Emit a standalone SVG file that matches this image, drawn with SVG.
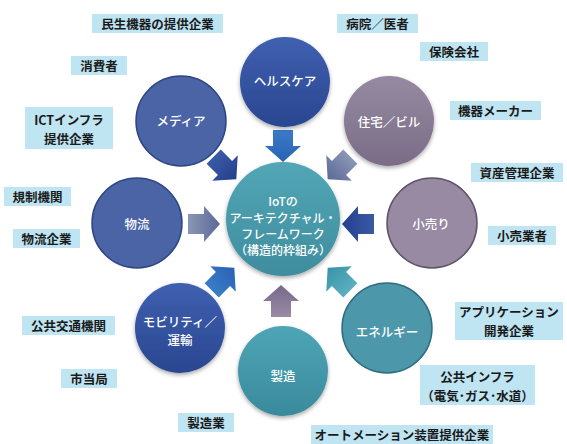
<svg xmlns="http://www.w3.org/2000/svg" width="567" height="444" viewBox="0 0 567 444">
<defs>
<style>
.lbl{fill:#bfe4f2}
.lt{font-family:"Noto Sans CJK JP","Liberation Sans",sans-serif;font-size:12.5px;font-weight:bold;fill:#1a1a1a;text-anchor:middle;dominant-baseline:central}
.ct{font-family:"Noto Sans CJK JP","Liberation Sans",sans-serif;font-size:12.5px;font-weight:500;fill:#ffffff;text-anchor:middle;dominant-baseline:central}
.cen{font-family:"Noto Sans CJK JP","Liberation Sans",sans-serif;font-size:12px;font-weight:500;fill:#ffffff;text-anchor:middle;dominant-baseline:central}
</style>
<filter id="sh" x="-20%" y="-20%" width="140%" height="140%">
<feGaussianBlur in="SourceAlpha" stdDeviation="2"/>
<feOffset dx="0" dy="2"/>
<feComponentTransfer><feFuncA type="linear" slope="0.35"/></feComponentTransfer>
<feMerge><feMergeNode/><feMergeNode in="SourceGraphic"/></feMerge>
</filter>
<linearGradient id="gBlue" x1="0" y1="0" x2="0" y2="1"><stop offset="0" stop-color="#3f60b0"/><stop offset="1" stop-color="#2a4690"/></linearGradient>
<linearGradient id="gMauve" x1="0" y1="0" x2="0" y2="1"><stop offset="0" stop-color="#968aa2"/><stop offset="1" stop-color="#7a6c86"/></linearGradient>
<linearGradient id="gTeal" x1="0" y1="0" x2="0" y2="1"><stop offset="0" stop-color="#4ea5b5"/><stop offset="1" stop-color="#3a8a9c"/></linearGradient>
<linearGradient id="gCen" x1="0" y1="0" x2="0" y2="1"><stop offset="0" stop-color="#52a6b6"/><stop offset="1" stop-color="#3e8d9e"/></linearGradient>
<linearGradient id="aBlue" gradientUnits="userSpaceOnUse" x1="0" y1="-16" x2="0" y2="16"><stop offset="0" stop-color="#3a7cc8"/><stop offset="1" stop-color="#2a62b4"/></linearGradient>
<linearGradient id="aDark" gradientUnits="userSpaceOnUse" x1="0" y1="-16" x2="0" y2="16"><stop offset="0" stop-color="#3a5aa6"/><stop offset="1" stop-color="#243f8c"/></linearGradient>
<linearGradient id="aGrey" gradientUnits="userSpaceOnUse" x1="0" y1="-16" x2="0" y2="16"><stop offset="0" stop-color="#8a96b4"/><stop offset="1" stop-color="#5a6a98"/></linearGradient>
<linearGradient id="aMauve" gradientUnits="userSpaceOnUse" x1="0" y1="-16" x2="0" y2="16"><stop offset="0" stop-color="#9a8ca6"/><stop offset="1" stop-color="#75688a"/></linearGradient>
<linearGradient id="aTeal" gradientUnits="userSpaceOnUse" x1="0" y1="-16" x2="0" y2="16"><stop offset="0" stop-color="#5ab0c0"/><stop offset="1" stop-color="#3a92a8"/></linearGradient>
<path id="arr" d="M-10,-16 H10 V0 H18 L0,16 L-18,0 H-10 Z"/>
</defs>
<rect width="567" height="444" fill="#ffffff"/>

<g id="connectors">
<use href="#arr" fill="url(#aBlue)" transform="translate(283,146)"/>
<use href="#arr" fill="url(#aDark)" transform="translate(225,168) rotate(-45)"/>
<use href="#arr" fill="url(#aGrey)" transform="translate(339,168) rotate(45)"/>
<use href="#arr" fill="url(#aGrey)" transform="translate(204,224) rotate(-90)"/>
<use href="#arr" fill="url(#aDark)" transform="translate(358,224) rotate(90)"/>
<use href="#arr" fill="url(#aBlue)" transform="translate(223,279) rotate(-135)"/>
<use href="#arr" fill="url(#aMauve)" transform="translate(281,301) rotate(180)"/>
<use href="#arr" fill="url(#aTeal)" transform="translate(339,279) rotate(135)"/>
</g>

<g id="center">
<circle cx="283" cy="219" r="57" fill="url(#gCen)" filter="url(#sh)"/>
<text class="cen" x="283" y="200">IoTの</text>
<text class="cen" x="283" y="217">アーキテクチャル・</text>
<text class="cen" x="283" y="233">フレームワーク</text>
<text class="cen" x="283" y="249">（構造的枠組み）</text>
</g>

<g id="healthcare">
<circle cx="285" cy="82" r="45" fill="url(#gBlue)" filter="url(#sh)"/>
<text class="ct" x="285" y="80">ヘルスケア</text>
</g>
<g id="media">
<circle cx="181" cy="121" r="45" fill="#4b64a6" stroke="#2e4784" stroke-width="1.5"/>
<text class="ct" x="181" y="120">メディア</text>
</g>
<g id="housing">
<circle cx="389" cy="121" r="45" fill="url(#gMauve)" filter="url(#sh)"/>
<text class="ct" x="389" y="121">住宅／ビル</text>
</g>
<g id="logistics">
<circle cx="137" cy="223" r="45" fill="#4b64a6" stroke="#2e4784" stroke-width="1.5"/>
<text class="ct" x="137" y="223">物流</text>
</g>
<g id="retail">
<circle cx="432" cy="223" r="45" fill="#978aa2" stroke="#5e5468" stroke-width="1.5"/>
<text class="ct" x="431" y="223">小売り</text>
</g>
<g id="mobility">
<circle cx="180" cy="328" r="45" fill="url(#gBlue)" filter="url(#sh)"/>
<text class="ct" x="180" y="321">モビリティ／</text>
<text class="ct" x="180" y="339">運輸</text>
</g>
<g id="energy">
<circle cx="387" cy="328" r="45" fill="#4c98aa" stroke="#2e6e80" stroke-width="1.5"/>
<text class="ct" x="387" y="331">エネルギー</text>
</g>
<g id="manufacturing">
<circle cx="283" cy="371" r="45" fill="url(#gTeal)" filter="url(#sh)"/>
<text class="ct" x="283" y="375">製造</text>
</g>

<g id="label-consumer-devices"><rect class="lbl" x="92" y="14" width="131" height="19"/><text class="lt" x="157.5" y="23.5">民生機器の提供企業</text></g>
<g id="label-consumers"><rect class="lbl" x="71" y="56" width="56" height="19"/><text class="lt" x="99" y="65.5">消費者</text></g>
<g id="label-ict"><rect class="lbl" x="25" y="107" width="88" height="42"/><text class="lt" x="69" y="119">ICTインフラ</text><text class="lt" x="69" y="138">提供企業</text></g>
<g id="label-hospital"><rect class="lbl" x="337" y="14" width="81" height="19"/><text class="lt" x="377.5" y="23.5">病院／医者</text></g>
<g id="label-insurance"><rect class="lbl" x="420" y="42" width="68" height="19"/><text class="lt" x="454" y="51.5">保険会社</text></g>
<g id="label-equipment"><rect class="lbl" x="450" y="101" width="91" height="19"/><text class="lt" x="495.5" y="110.5">機器メーカー</text></g>
<g id="label-regulators"><rect class="lbl" x="4" y="187" width="67" height="19"/><text class="lt" x="37.5" y="196.5">規制機関</text></g>
<g id="label-logistics-co"><rect class="lbl" x="13" y="229" width="67" height="19"/><text class="lt" x="46.5" y="238.5">物流企業</text></g>
<g id="label-asset"><rect class="lbl" x="471" y="163" width="92" height="19"/><text class="lt" x="517" y="172.5">資産管理企業</text></g>
<g id="label-retailers"><rect class="lbl" x="488" y="226" width="68" height="19"/><text class="lt" x="522" y="235.5">小売業者</text></g>
<g id="label-transit"><rect class="lbl" x="22" y="316" width="93" height="19"/><text class="lt" x="68.5" y="325.5">公共交通機関</text></g>
<g id="label-city"><rect class="lbl" x="61" y="369" width="56" height="19"/><text class="lt" x="89" y="378.5">市当局</text></g>
<g id="label-manufacturers"><rect class="lbl" x="178" y="413" width="56" height="19"/><text class="lt" x="206" y="422.5">製造業</text></g>
<g id="label-app"><rect class="lbl" x="455" y="302" width="108" height="38"/><text class="lt" x="509" y="311">アプリケーション</text><text class="lt" x="509" y="330">開発企業</text></g>
<g id="label-utilities"><rect class="lbl" x="420" y="365" width="115" height="40"/><text class="lt" x="477.5" y="376">公共インフラ</text><text class="lt" x="477.5" y="395">（電気･ガス･水道）</text></g>
<g id="label-automation"><rect class="lbl" x="311" y="425" width="182" height="19"/><text class="lt" x="402" y="434.5">オートメーション装置提供企業</text></g>
</svg>
